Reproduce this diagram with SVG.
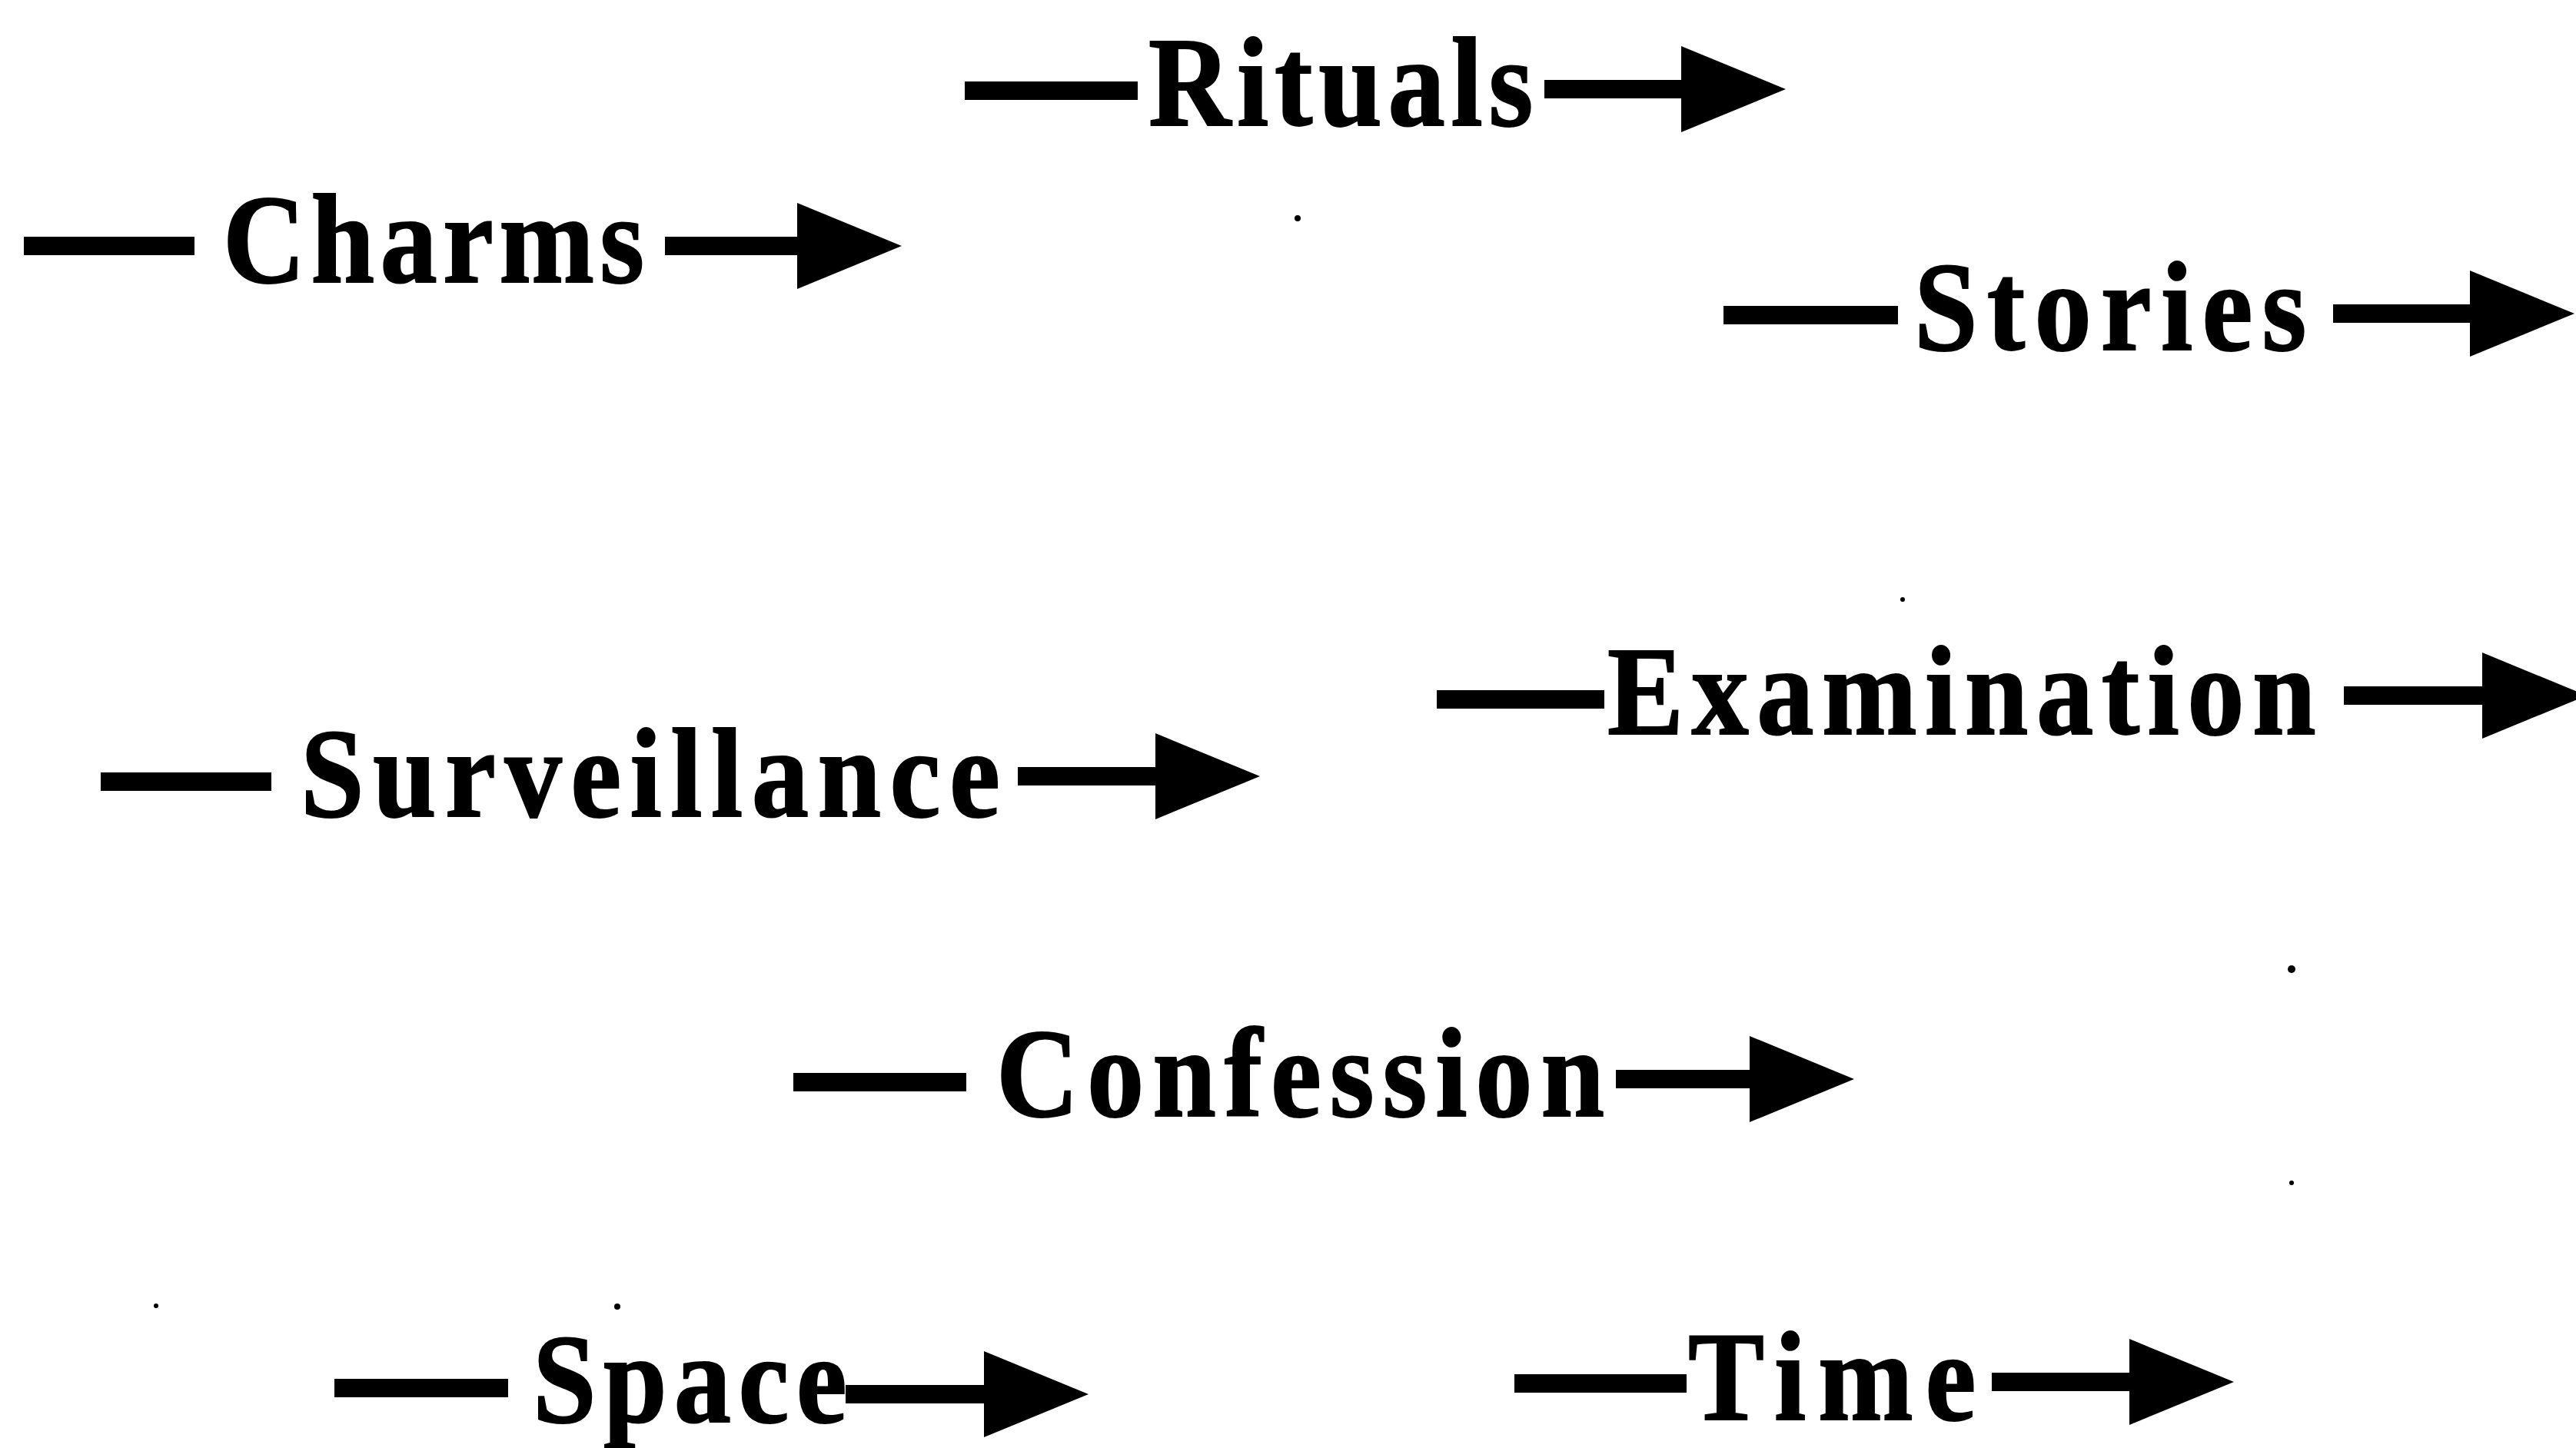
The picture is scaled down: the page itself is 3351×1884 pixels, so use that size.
<svg xmlns="http://www.w3.org/2000/svg" width="3351" height="1884" viewBox="0 0 3351 1884">
<style>
.lbl{font-family:"Liberation Serif","Times New Roman",serif;font-weight:bold;font-size:165px;fill:#000;stroke:#000;stroke-width:2}
.ln{stroke:#000;stroke-width:24;fill:none}
.speck{fill:#000}
</style>
<defs>
<marker id="ah" markerUnits="userSpaceOnUse" viewBox="0 0 140 112" refX="4" refY="56" markerWidth="140" markerHeight="112" orient="auto">
<path d="M0,0 L136,56 L0,112 Z" fill="#000"/>
</marker>
</defs>
<rect width="3351" height="1884" fill="#fff"/>
<g id="connectors">
<line class="ln" x1="1255" y1="118" x2="1480" y2="118"/>
<line class="ln" x1="2009" y1="116" x2="2191" y2="116" marker-end="url(#ah)"/>
<line class="ln" x1="31" y1="320" x2="253" y2="320"/>
<line class="ln" x1="865" y1="320" x2="1041" y2="320" marker-end="url(#ah)"/>
<line class="ln" x1="2242" y1="410" x2="2469" y2="410"/>
<line class="ln" x1="3035" y1="408" x2="3217" y2="408" marker-end="url(#ah)"/>
<line class="ln" x1="131" y1="1017" x2="353" y2="1017"/>
<line class="ln" x1="1324" y1="1010" x2="1507" y2="1010" marker-end="url(#ah)"/>
<line class="ln" x1="1869" y1="910" x2="2087" y2="910"/>
<line class="ln" x1="3049" y1="905" x2="3233" y2="905" marker-end="url(#ah)"/>
<line class="ln" x1="1032" y1="1408" x2="1257" y2="1408"/>
<line class="ln" x1="2102" y1="1404" x2="2280" y2="1404" marker-end="url(#ah)"/>
<line class="ln" x1="435" y1="1806" x2="661" y2="1806"/>
<line class="ln" x1="1100" y1="1814" x2="1284" y2="1814" marker-end="url(#ah)"/>
<line class="ln" x1="1970" y1="1800" x2="2194" y2="1800"/>
<line class="ln" x1="2591" y1="1798" x2="2774" y2="1798" marker-end="url(#ah)"/>
</g>
<g id="node-rituals"><text class="lbl" transform="matrix(0.9,0,0,1,1494,163)" textLength="556" lengthAdjust="spacing">Rituals</text></g>
<g id="node-charms"><text class="lbl" transform="matrix(0.9,0,0,1,290,367)" textLength="609" lengthAdjust="spacing">Charms</text></g>
<g id="node-stories"><text class="lbl" transform="matrix(0.9,0,0,1,2490,455)" textLength="567" lengthAdjust="spacing">Stories</text></g>
<g id="node-surveillance"><text class="lbl" transform="matrix(0.9,0,0,1,391,1062)" textLength="1011" lengthAdjust="spacing">Surveillance</text></g>
<g id="node-examination"><text class="lbl" transform="matrix(0.9,0,0,1,2091,955)" textLength="1024" lengthAdjust="spacing">Examination</text></g>
<g id="node-confession"><text class="lbl" transform="matrix(0.9,0,0,1,1296,1452)" textLength="879" lengthAdjust="spacing">Confession</text></g>
<g id="node-space"><text class="lbl" transform="matrix(0.9,0,0,1,693,1850)" textLength="454" lengthAdjust="spacing">Space</text></g>
<g id="node-time"><text class="lbl" transform="matrix(0.9,0,0,1,2196,1847)" textLength="416" lengthAdjust="spacing">Time</text></g>
<g id="specks">
<circle class="speck" cx="1688" cy="284" r="4"/>
<circle class="speck" cx="2475" cy="780" r="3"/>
<circle class="speck" cx="2981" cy="1261" r="5"/>
<circle class="speck" cx="2981" cy="1539" r="3"/>
<circle class="speck" cx="203" cy="1699" r="3"/>
<circle class="speck" cx="803" cy="1700" r="4"/>
</g>
</svg>
